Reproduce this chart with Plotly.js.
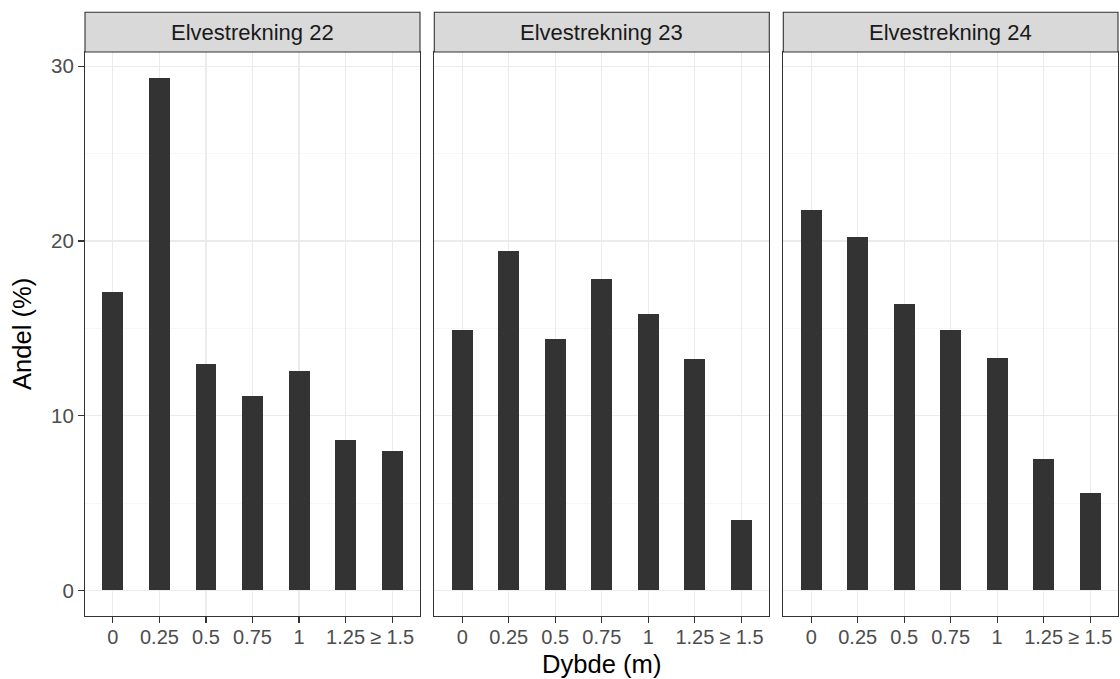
<!DOCTYPE html>
<html>
<head>
<meta charset="utf-8">
<script src="https://cdn.plot.ly/plotly-3.0.1.min.js"></script>
<style>html,body{margin:0;padding:0;background:#fff;}#chart{width:1120px;height:679px;}</style>
</head>
<body>
<div id="chart"></div>
<script>
const depths = ['0', '0.25', '0.5', '0.75', '1', '1.25', '≥ 1.5'];
const panelNames = ['Elvestrekning 22', 'Elvestrekning 23', 'Elvestrekning 24'];
const andel22 = [17.1, 29.35, 12.95, 11.15, 12.55, 8.6, 7.95];
const andel23 = [14.9, 19.45, 14.4, 17.85, 15.8, 13.25, 4.05];
const andel24 = [21.8, 20.2, 16.4, 14.9, 13.3, 7.5, 5.6];
const yTickVals = [0, 10, 20, 30];
const xTitle = 'Dybde (m)';
const yTitle = 'Andel (%)';

const series = [andel22, andel23, andel24];
const FONT = 'Liberation Sans, Arial, sans-serif';
const W = 1120, H = 679;
const mL = 85, mR = 2, mT = 52, mB = 63;
const pw = W - mL - mR, ph = H - mT - mB;
const px = v => (v - mL) / pw;
const domains = [[0, px(420)], [px(434.3), px(769.3)], [px(783.3), 1]];
const maxVal = Math.max(...andel22, ...andel23, ...andel24);
const yRange = [-0.05 * maxVal, maxVal * 1.05];

const traces = series.map((vals, i) => ({
  type: 'bar',
  x: depths,
  y: vals,
  xaxis: i === 0 ? 'x' : 'x' + (i + 1),
  yaxis: i === 0 ? 'y' : 'y' + (i + 1),
  width: 0.45,
  marker: {color: '#333333', line: {width: 0}},
  hoverinfo: 'skip',
  showlegend: false
}));

const layout = {
  width: W, height: H,
  margin: {l: mL, r: mR, t: mT, b: mB, pad: 0},
  paper_bgcolor: '#ffffff',
  plot_bgcolor: '#ffffff',
  font: {family: FONT, color: '#4D4D4D', size: 20.5},
  showlegend: false,
  bargap: 0,
  shapes: [],
  annotations: []
};

const stripTop = 1 + (52 - 12.3) / ph;

domains.forEach((d, i) => {
  const sx = i === 0 ? '' : String(i + 1);
  layout['xaxis' + sx] = {
    domain: d,
    anchor: 'y' + sx,
    type: 'category',
    categoryorder: 'array',
    categoryarray: depths,
    range: [-0.6, 6.6],
    showgrid: true, gridcolor: '#EBEBEB', gridwidth: 1.1,
    zeroline: false,
    showline: true, mirror: true, linecolor: '#333333', linewidth: 1.1,
    ticks: 'outside', ticklen: 6, tickwidth: 1.1, tickcolor: '#333333',
    ticklabelstandoff: -3,
    tickfont: {family: FONT, size: 20, color: '#4D4D4D'},
    fixedrange: true
  };
  layout['yaxis' + sx] = {
    domain: [0, 1],
    anchor: 'x' + sx,
    range: yRange,
    tickvals: yTickVals,
    showgrid: true, gridcolor: '#EBEBEB', gridwidth: 1.1,
    minor: {tickvals: [5, 15, 25], showgrid: true, gridcolor: '#F2F2F2', gridwidth: 0.6, ticks: ''},
    zeroline: false,
    showline: true, mirror: true, linecolor: '#333333', linewidth: 1.1,
    ticks: i === 0 ? 'outside' : '', ticklen: 6, tickwidth: 1.1, tickcolor: '#333333',
    showticklabels: i === 0,
    tickfont: {family: FONT, size: 20.5, color: '#4D4D4D'},
    fixedrange: true
  };
  layout.shapes.push({
    type: 'rect', xref: 'paper', yref: 'paper',
    x0: d[0], x1: d[1], y0: 1, y1: stripTop,
    fillcolor: '#D9D9D9', line: {color: '#333333', width: 1.1}, layer: 'above'
  });
  layout.annotations.push({
    xref: 'paper', yref: 'paper',
    x: (d[0] + d[1]) / 2, y: (1 + stripTop) / 2,
    xanchor: 'center', yanchor: 'middle',
    text: panelNames[i], showarrow: false,
    font: {family: FONT, size: 22, color: '#1A1A1A'}
  });
});

layout.annotations.push({
  xref: 'paper', yref: 'paper',
  x: (601.8 - mL) / pw, y: -(664 - (H - mB)) / ph,
  xanchor: 'center', yanchor: 'middle',
  text: xTitle, showarrow: false,
  font: {family: FONT, size: 25.6, color: '#000000'}
});
layout.annotations.push({
  xref: 'paper', yref: 'paper',
  x: (22 - mL) / pw, y: 0.5,
  xanchor: 'center', yanchor: 'middle',
  textangle: -90,
  text: yTitle, showarrow: false,
  font: {family: FONT, size: 25.6, color: '#000000'}
});

Plotly.newPlot('chart', traces, layout, {displayModeBar: false, staticPlot: true});
</script>
</body>
</html>
